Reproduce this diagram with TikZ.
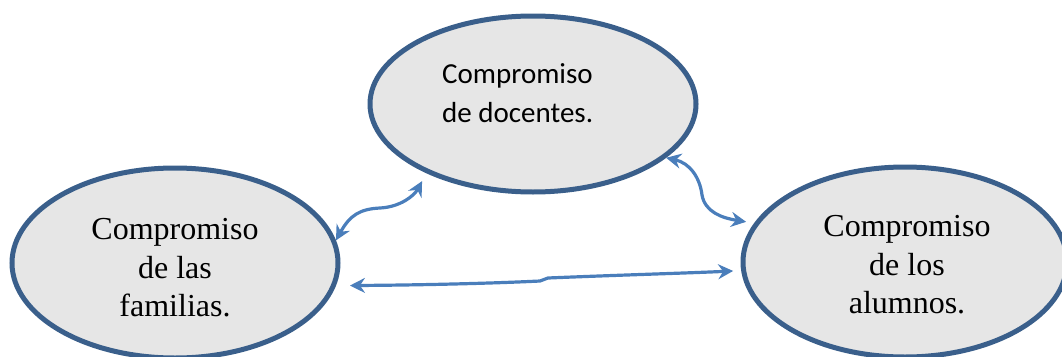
\documentclass[tikz,border=0pt]{standalone}
\usepackage{fontspec}
\setmainfont{Liberation Serif}
\newfontfamily\calib{Carlito}
\usetikzlibrary{shapes.geometric,arrows.meta}
\definecolor{ringblue}{HTML}{3A5F8B}
\definecolor{ellfill}{HTML}{E6E6E6}
\definecolor{arrblue}{HTML}{4A7EBB}
\tikzset{
  oval/.style={ellipse, draw=ringblue, fill=ellfill, line width=5pt, inner sep=0pt},
  link/.style={draw=arrblue, line width=3.2pt,
    {Stealth[length=15pt,width=15pt,inset=5pt]}-{Stealth[length=15pt,width=15pt,inset=5pt]}},
  lbl/.style={inner sep=0pt, align=center, font=\fontsize{32}{38.5}\selectfont},
}
\begin{document}
\begin{tikzpicture}[x=1pt,y=-1pt]
\useasboundingbox (0,0) rectangle (1062,356);
\node[oval, minimum width=326pt, minimum height=176pt] (doc) at (533,104) {};
\node[oval, minimum width=326pt, minimum height=190pt] (fam) at (175,263) {};
\node[oval, minimum width=324pt, minimum height=190pt] (alu) at (905,262) {};
\node[inner sep=0pt, align=left, anchor=west, font=\calib\fontsize{29}{39}\selectfont] (tdoc) at (442,93) {Compromiso\\de docentes.};
\node[lbl] (tfam) at (175,268) {Compromiso\\de las\\familias.};
\node[lbl] (talu) at (907,265) {Compromiso\\de los\\alumnos.};
\draw[link, shorten >=9pt] (fam.8) .. controls (350,215) and (360,209) .. (380,208)
   .. controls (400,207) and (414,196) .. (doc.213);
\draw[link] (doc.-22) .. controls (690,163) and (700,178) .. (702,195)
   .. controls (705,212) and (722,218) .. ([xshift=-9pt]alu.165);
\draw[link, shorten <=14pt, shorten >=8pt] (fam.-8) .. controls (430,285) and (500,283) .. (540,281)
   -- (548,278) .. controls (620,275) and (690,273) .. (alu.183);
\end{tikzpicture}
\end{document}
